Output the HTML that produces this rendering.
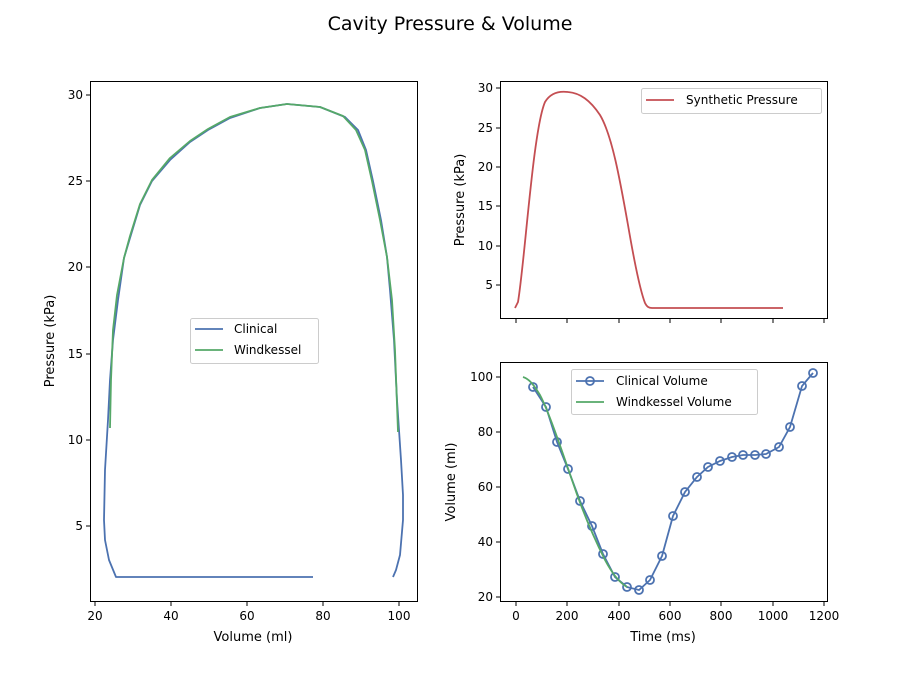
<!DOCTYPE html>
<html><head><style>body{margin:0;background:#fff}svg{display:block}text{font-family:"DejaVu Sans","Liberation Sans",sans-serif;fill:#000}</style></head><body>
<svg width="900" height="675" viewBox="0 0 900 675">
<text x="450" y="30" font-size="19" text-anchor="middle">Cavity Pressure &amp; Volume</text>
<!-- Left axes -->
<g font-size="12">
<rect x="90.5" y="81.5" width="327" height="520" fill="none" stroke="#000"/>
<g stroke="#000">
<line x1="86" x2="90" y1="526" y2="526"/><line x1="86" x2="90" y1="440" y2="440"/><line x1="86" x2="90" y1="354" y2="354"/><line x1="86" x2="90" y1="267" y2="267"/><line x1="86" x2="90" y1="181" y2="181"/><line x1="86" x2="90" y1="95" y2="95"/>
<line y1="602" y2="606" x1="95" x2="95"/><line y1="602" y2="606" x1="171" x2="171"/><line y1="602" y2="606" x1="247" x2="247"/><line y1="602" y2="606" x1="323" x2="323"/><line y1="602" y2="606" x1="399" x2="399"/>
</g>
<g text-anchor="end"><text x="83" y="530">5</text><text x="83" y="444">10</text><text x="83" y="358">15</text><text x="83" y="271">20</text><text x="83" y="185">25</text><text x="83" y="99">30</text></g>
<g text-anchor="middle"><text x="95" y="620">20</text><text x="171" y="620">40</text><text x="247" y="620">60</text><text x="323" y="620">80</text><text x="399" y="620">100</text>
<text x="253" y="641" font-size="13">Volume (ml)</text></g>
<text transform="translate(54,341) rotate(-90)" text-anchor="middle" font-size="13">Pressure (kPa)</text>
<polyline points="393,577 396,570 400,555 403,520 403,495 401,460 399,430 397,400 394,340 390,290 387,257 381,220 373,181 366,150 358,130 345,117 320,107 287,104 260,108 230,118 208,130 190,142 170,160 152,181 140,205 130,238 124,258 118,300 113,340 110,380 108,420 105,470 104,520 105,540 109,560 116,577 313,577" fill="none" stroke="#4c72b0" stroke-width="1.8" stroke-linejoin="round"/>
<polyline points="110,428 111,380 113,330 117,295 124,258 130,236 140,204 152,180 170,158 190,141 208,129 230,117 260,108 287,104 320,107 343,116 356,130 365,150 372,181 380,220 387,257 392,300 395,350 398,432" fill="none" stroke="#55a868" stroke-width="1.8" stroke-linejoin="round"/>
<rect x="190.5" y="318.5" width="128" height="45" fill="#fff" stroke="#ccc" rx="2"/>
<line x1="195" x2="223" y1="329" y2="329" stroke="#4c72b0" stroke-width="1.8"/><text x="234" y="333">Clinical</text>
<line x1="195" x2="223" y1="350" y2="350" stroke="#55a868" stroke-width="1.8"/><text x="234" y="354">Windkessel</text>
</g>
<!-- Top right -->
<g font-size="12">
<rect x="500.5" y="81.5" width="327" height="237" fill="none" stroke="#000"/>
<g stroke="#000">
<line x1="496" x2="500" y1="285" y2="285"/><line x1="496" x2="500" y1="246" y2="246"/><line x1="496" x2="500" y1="206" y2="206"/><line x1="496" x2="500" y1="167" y2="167"/><line x1="496" x2="500" y1="128" y2="128"/><line x1="496" x2="500" y1="88" y2="88"/>
<line y1="319" y2="323" x1="516" x2="516"/><line y1="319" y2="323" x1="567" x2="567"/><line y1="319" y2="323" x1="619" x2="619"/><line y1="319" y2="323" x1="670" x2="670"/><line y1="319" y2="323" x1="721" x2="721"/><line y1="319" y2="323" x1="773" x2="773"/><line y1="319" y2="323" x1="824" x2="824"/>
</g>
<g text-anchor="end"><text x="493" y="289">5</text><text x="493" y="250">10</text><text x="493" y="210">15</text><text x="493" y="171">20</text><text x="493" y="132">25</text><text x="493" y="92">30</text></g>
<text transform="translate(464,200) rotate(-90)" text-anchor="middle" font-size="13">Pressure (kPa)</text>
<path d="M515,308 L518,302 C525,260 533,130 545,102 C551,92 560,91 568,92 C580,93 590,100 600,115 C612,135 620,180 628,225 C634,260 640,290 645,303 C647,307 649,308 652,308 L783,308" fill="none" stroke="#c44e52" stroke-width="1.8"/>
<rect x="641.5" y="88.5" width="180" height="25" fill="#fff" stroke="#ccc" rx="2"/>
<line x1="646" x2="674" y1="100" y2="100" stroke="#c44e52" stroke-width="1.8"/><text x="686" y="104">Synthetic Pressure</text>
</g>
<!-- Bottom right -->
<g font-size="12">
<rect x="500.5" y="362.5" width="327" height="239" fill="none" stroke="#000"/>
<g stroke="#000">
<line x1="496" x2="500" y1="597" y2="597"/><line x1="496" x2="500" y1="542" y2="542"/><line x1="496" x2="500" y1="487" y2="487"/><line x1="496" x2="500" y1="432" y2="432"/><line x1="496" x2="500" y1="377" y2="377"/>
<line y1="602" y2="606" x1="516" x2="516"/><line y1="602" y2="606" x1="567" x2="567"/><line y1="602" y2="606" x1="619" x2="619"/><line y1="602" y2="606" x1="670" x2="670"/><line y1="602" y2="606" x1="721" x2="721"/><line y1="602" y2="606" x1="773" x2="773"/><line y1="602" y2="606" x1="824" x2="824"/>
</g>
<g text-anchor="end"><text x="493" y="601">20</text><text x="493" y="546">40</text><text x="493" y="491">60</text><text x="493" y="436">80</text><text x="493" y="381">100</text></g>
<g text-anchor="middle"><text x="516" y="620">0</text><text x="567" y="620">200</text><text x="619" y="620">400</text><text x="670" y="620">600</text><text x="721" y="620">800</text><text x="773" y="620">1000</text><text x="824" y="620">1200</text>
<text x="663" y="641" font-size="13">Time (ms)</text></g>
<text transform="translate(455,482) rotate(-90)" text-anchor="middle" font-size="13">Volume (ml)</text>
<g fill="none" stroke="#4c72b0" stroke-width="1.8">
<polyline points="533,387 546,407 557,442 568,469 580,501 592,526 603,554 615,577 627,587 639,590 650,580 662,556 673,516 685,492 697,477 708,467 720,461 732,457 743,455 755,455 766,454 779,447 790,427 802,386 813,373"/>
<g>
<circle cx="533" cy="387" r="4"/><circle cx="546" cy="407" r="4"/><circle cx="557" cy="442" r="4"/><circle cx="568" cy="469" r="4"/><circle cx="580" cy="501" r="4"/><circle cx="592" cy="526" r="4"/><circle cx="603" cy="554" r="4"/><circle cx="615" cy="577" r="4"/><circle cx="627" cy="587" r="4"/><circle cx="639" cy="590" r="4"/><circle cx="650" cy="580" r="4"/><circle cx="662" cy="556" r="4"/><circle cx="673" cy="516" r="4"/><circle cx="685" cy="492" r="4"/><circle cx="697" cy="477" r="4"/><circle cx="708" cy="467" r="4"/><circle cx="720" cy="461" r="4"/><circle cx="732" cy="457" r="4"/><circle cx="743" cy="455" r="4"/><circle cx="755" cy="455" r="4"/><circle cx="766" cy="454" r="4"/><circle cx="779" cy="447" r="4"/><circle cx="790" cy="427" r="4"/><circle cx="802" cy="386" r="4"/><circle cx="813" cy="373" r="4"/>
</g></g>
<path d="M523,377 C530,379 535,387 540,395 C548,410 560,445 572,480 C582,510 595,540 605,560 C613,575 620,583 627,587" fill="none" stroke="#55a868" stroke-width="1.8"/>
<rect x="571.5" y="369.5" width="186" height="45" fill="#fff" stroke="#ccc" rx="2"/>
<line x1="576" x2="604" y1="381" y2="381" stroke="#4c72b0" stroke-width="1.8"/><circle cx="590" cy="381" r="4" fill="none" stroke="#4c72b0" stroke-width="1.8"/><text x="616" y="385">Clinical Volume</text>
<line x1="576" x2="604" y1="402" y2="402" stroke="#55a868" stroke-width="1.8"/><text x="616" y="406">Windkessel Volume</text>
</g>
</svg>
</body></html>
